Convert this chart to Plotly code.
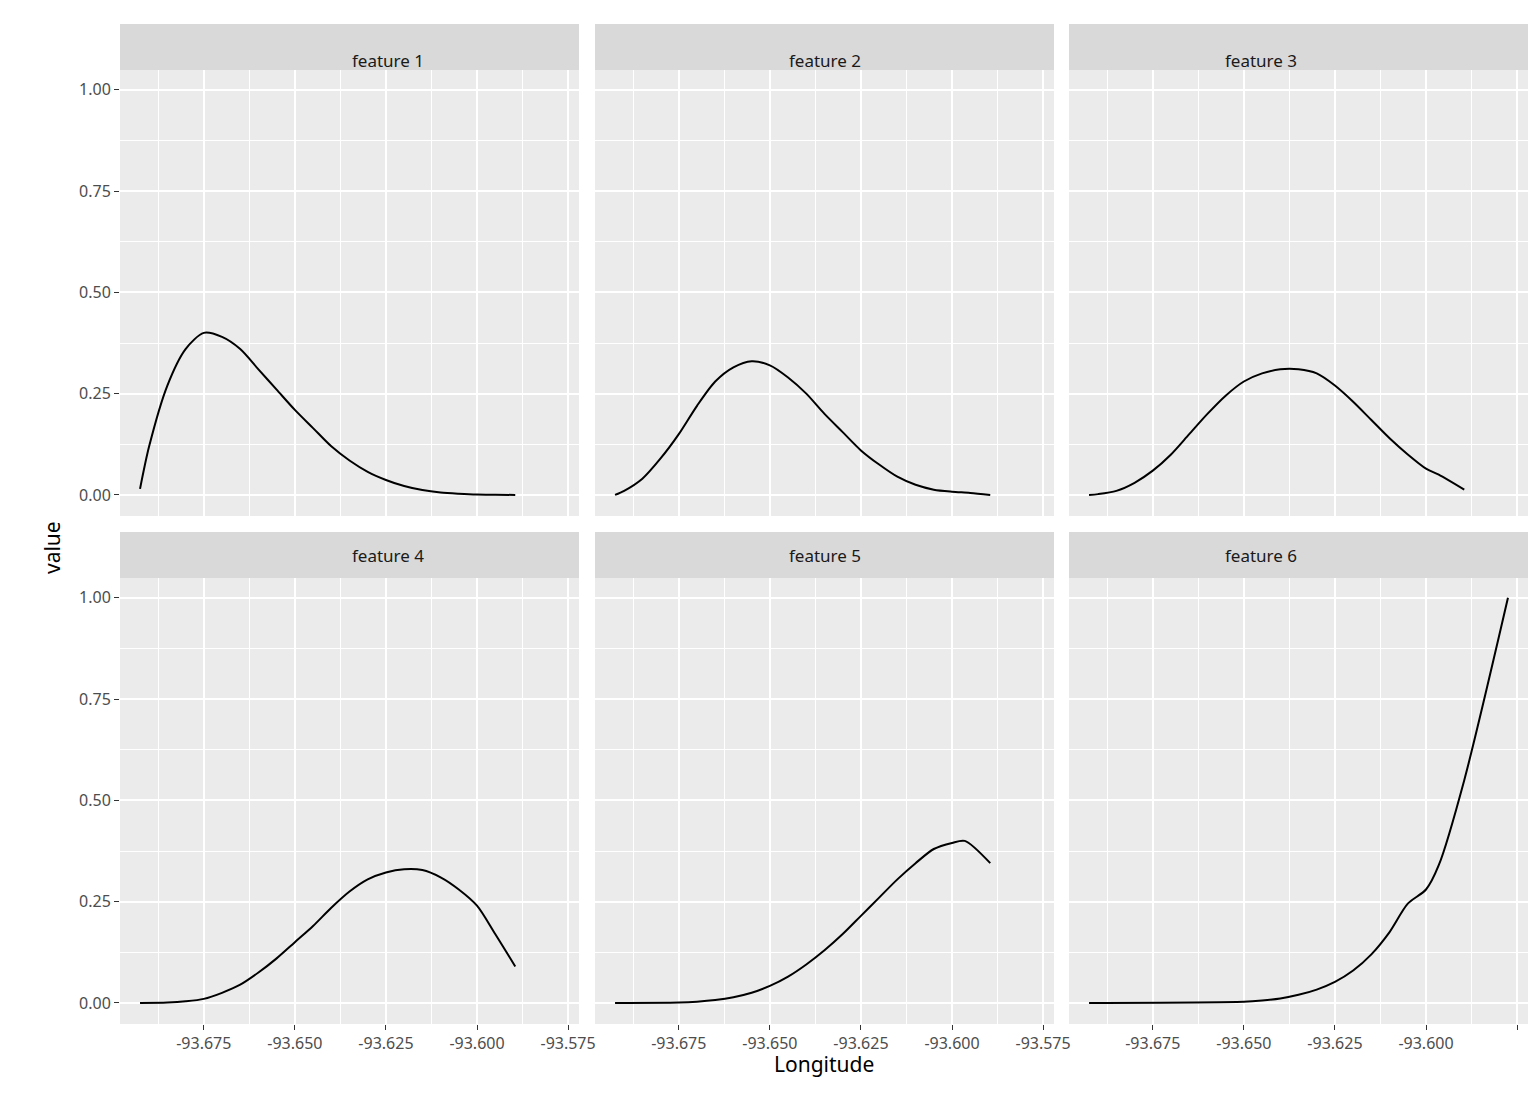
import plotly.graph_objects as go

# data
x1 = [-93.6925, -93.69, -93.685, -93.68, -93.675, -93.67, -93.665, -93.66, -93.655, -93.65, -93.645,
      -93.64, -93.635, -93.63, -93.625, -93.62, -93.615, -93.61, -93.605, -93.6, -93.595, -93.5895]
y1 = [0.015, 0.12, 0.27, 0.36, 0.40, 0.39, 0.36, 0.31, 0.26, 0.21, 0.165,
      0.12, 0.085, 0.057, 0.037, 0.022, 0.012, 0.006, 0.003, 0.001, 0.0005, 0.0]
y2 = [0.0, 0.01, 0.04, 0.09, 0.15, 0.22, 0.28, 0.315, 0.33, 0.32, 0.29,
      0.25, 0.2, 0.155, 0.11, 0.075, 0.045, 0.025, 0.013, 0.008, 0.005, 0.0]
x3 = [-93.6925, -93.69, -93.685, -93.68, -93.675, -93.67, -93.665, -93.66, -93.655, -93.65, -93.645,
      -93.64, -93.635, -93.63, -93.625, -93.62, -93.615, -93.61, -93.605, -93.6, -93.5965, -93.5895]
y3 = [0.0, 0.002, 0.01, 0.03, 0.06, 0.1, 0.15, 0.2, 0.245, 0.28, 0.30,
      0.31, 0.31, 0.3, 0.27, 0.23, 0.185, 0.14, 0.1, 0.065, 0.05, 0.013]
x4 = [-93.6925, -93.685, -93.68, -93.675, -93.67, -93.665, -93.66, -93.655, -93.65, -93.645, -93.64,
      -93.635, -93.63, -93.625, -93.62, -93.615, -93.61, -93.605, -93.6, -93.595, -93.5895]
y4 = [0.0, 0.001, 0.004, 0.01, 0.025, 0.045, 0.075, 0.11, 0.15, 0.19, 0.235,
      0.275, 0.305, 0.322, 0.33, 0.328, 0.31, 0.28, 0.24, 0.17, 0.09]
x5 = [-93.6925, -93.675, -93.67, -93.665, -93.66, -93.655, -93.65, -93.645, -93.64, -93.635, -93.63,
      -93.625, -93.62, -93.615, -93.61, -93.605, -93.6, -93.5965, -93.5895]
y5 = [0.0, 0.001, 0.003, 0.007, 0.014, 0.025, 0.042, 0.065, 0.095, 0.13, 0.17,
      0.215, 0.26, 0.305, 0.345, 0.38, 0.395, 0.40, 0.345]
x6 = [-93.6925, -93.65, -93.645, -93.64, -93.635, -93.63, -93.625, -93.62, -93.615, -93.61, -93.605,
      -93.6, -93.5965, -93.5895, -93.5775]
y6 = [0.0, 0.003, 0.006, 0.011, 0.02, 0.033, 0.052, 0.08, 0.12, 0.175, 0.245,
      0.28, 0.34, 0.55, 1.0]

features = ["feature 1", "feature 2", "feature 3", "feature 4", "feature 5", "feature 6"]
series = [(x1, y1), (x1, y2), (x3, y3), (x4, y4), (x5, y5), (x6, y6)]

x_ticks = [-93.675, -93.65, -93.625, -93.6, -93.575]
x_ticktext = ["-93.675", "-93.650", "-93.625", "-93.600", "-93.575"]
x_minor = [-93.6875, -93.6625, -93.6375, -93.6125, -93.5875]
y_ticks = [0, 0.25, 0.5, 0.75, 1.0]
y_ticktext = ["0.00", "0.25", "0.50", "0.75", "1.00"]
y_minor = [0.125, 0.375, 0.625, 0.875]

W, H = 1536, 1104
cols_px = [(112, 571), (587, 1046), (1061, 1520)]
rows_px = [(16, 62, 508), (524, 570, 1016)]

fig = go.Figure()
tick_font = dict(family="Noto Sans", size=16, color="#4D4D4D")

for i, (name, (xs, ys)) in enumerate(zip(features, series)):
    r, c = divmod(i, 3)
    x0, x1p = cols_px[c]
    st, top, bot = rows_px[r]
    k = i + 1
    xa = "x" if k == 1 else f"x{k}"
    ya = "y" if k == 1 else f"y{k}"
    fig.add_trace(go.Scatter(x=xs, y=ys, mode="lines",
                             line=dict(color="black", width=2, shape="spline", smoothing=0.8),
                             xaxis=xa, yaxis=ya, showlegend=False))
    fig.layout[xa.replace("x", "xaxis")] = dict(
        domain=[x0 / W, x1p / W], anchor=ya, range=[-93.698, -93.572], automargin=False,
        tickmode="array", tickvals=x_ticks, ticktext=x_ticktext,
        showticklabels=(r == 1), ticks="outside" if r == 1 else "", ticklen=5,
        tickcolor="#333333", tickfont=tick_font,
        showgrid=True, gridcolor="white", gridwidth=2, zeroline=False,
        minor=dict(tickvals=x_minor, showgrid=True, gridcolor="white", gridwidth=1),
    )
    fig.layout[ya.replace("y", "yaxis")] = dict(
        domain=[1 - bot / H, 1 - top / H], anchor=xa, range=[-0.052, 1.049], automargin=False,
        tickmode="array", tickvals=y_ticks, ticktext=y_ticktext,
        showticklabels=(c == 0), ticks="outside" if c == 0 else "", ticklen=5,
        tickcolor="#333333", tickfont=tick_font,
        showgrid=True, gridcolor="white", gridwidth=2, zeroline=False,
        minor=dict(tickvals=y_minor, showgrid=True, gridcolor="white", gridwidth=1),
    )
    fig.add_shape(type="rect", xref="paper", yref="paper", x0=x0 / W, x1=x1p / W,
                  y0=1 - bot / H, y1=1 - top / H, fillcolor="#EBEBEB", line_width=0, layer="below")
    fig.add_shape(type="rect", xref="paper", yref="paper", x0=x0 / W, x1=x1p / W,
                  y0=1 - top / H, y1=1 - st / H, fillcolor="#D9D9D9", line_width=0)
    fig.add_annotation(text=name, xref="paper", yref="paper", x=(x0 + x1p) / 2 / W,
                       y=1 - (st + top) / 2 / H, showarrow=False,
                       font=dict(family="Noto Sans", size=17, color="#1A1A1A"))

fig.add_annotation(text="Longitude", xref="paper", yref="paper", x=816 / W, y=1 - 1072 / H,
                   showarrow=False, font=dict(family="Noto Sans", size=21, color="black"))
fig.add_annotation(text="value", xref="paper", yref="paper", x=28 / W, y=1 - 540 / H,
                   showarrow=False, textangle=-90, font=dict(family="Noto Sans", size=21, color="black"))

fig.update_layout(width=W, height=H, margin=dict(l=0, r=0, t=0, b=0),
                  paper_bgcolor="white", plot_bgcolor="rgba(0,0,0,0)")
fig.write_html("out.html")
